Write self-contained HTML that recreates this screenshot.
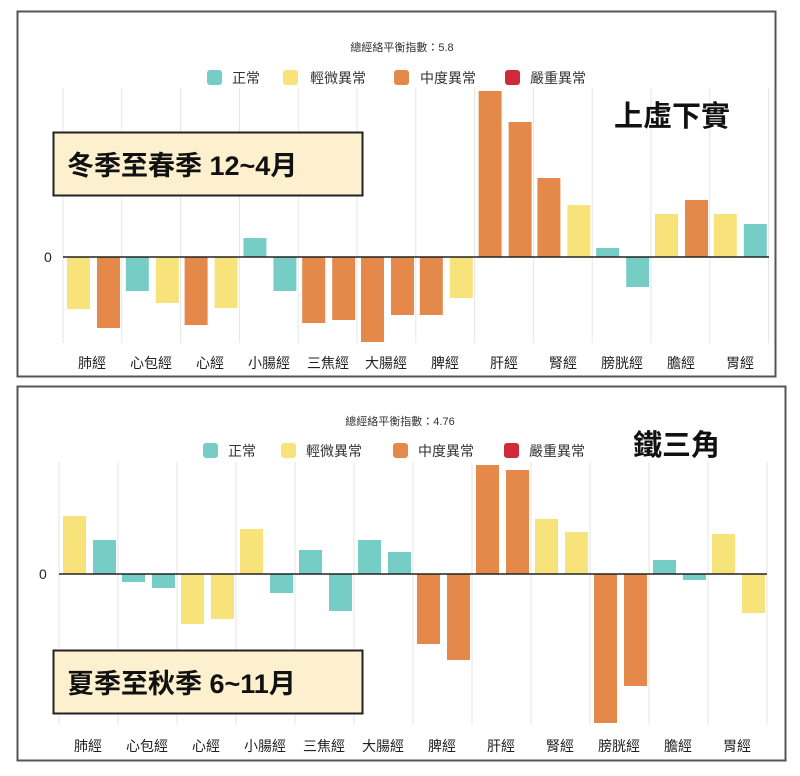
<!DOCTYPE html>
<html><head><meta charset="utf-8"><style>
html,body{margin:0;padding:0;background:#fff;}
svg{display:block;font-family:"Liberation Sans","Noto Sans CJK TC",sans-serif;}
</style></head><body>
<svg id="s" width="800" height="776" viewBox="0 0 800 776">
<rect x="0" y="0" width="800" height="776" fill="#fff"/>
<rect x="17.5" y="11.5" width="758" height="365" fill="#fff" stroke="#555" stroke-width="2"/>
<rect x="17.5" y="386.5" width="768" height="374" fill="#fff" stroke="#555" stroke-width="2"/>
<g id="g1"></g><g id="g2"></g>
<g font-size="11" fill="#333" text-anchor="middle">
<text x="402" y="51">總經絡平衡指數：5.8</text>
<text x="400" y="425">總經絡平衡指數：4.76</text>
</g>
<g font-size="14" fill="#333">
<rect x="207" y="70" width="15" height="15" rx="3" fill="#76CDC5"/><text x="232" y="83">正常</text>
<rect x="283" y="70" width="15" height="15" rx="3" fill="#F8E37A"/><text x="310" y="83">輕微異常</text>
<rect x="394" y="70" width="15" height="15" rx="3" fill="#E5894A"/><text x="420" y="83">中度異常</text>
<rect x="505" y="70" width="15" height="15" rx="3" fill="#CF2A3A"/><text x="530" y="83">嚴重異常</text>
<rect x="203" y="443" width="15" height="15" rx="3" fill="#76CDC5"/><text x="228" y="456">正常</text>
<rect x="281" y="443" width="15" height="15" rx="3" fill="#F8E37A"/><text x="306" y="456">輕微異常</text>
<rect x="393" y="443" width="15" height="15" rx="3" fill="#E5894A"/><text x="418" y="456">中度異常</text>
<rect x="504" y="443" width="15" height="15" rx="3" fill="#CF2A3A"/><text x="529" y="456">嚴重異常</text>
</g>
<g font-size="14" fill="#222" text-anchor="middle" id="lab">
<text x="92" y="368">肺經</text><text x="151" y="368">心包經</text><text x="210" y="368">心經</text><text x="269" y="368">小腸經</text><text x="328" y="368">三焦經</text><text x="386" y="368">大腸經</text><text x="445" y="368">脾經</text><text x="504" y="368">肝經</text><text x="563" y="368">腎經</text><text x="622" y="368">膀胱經</text><text x="681" y="368">膽經</text><text x="740" y="368">胃經</text>
<text x="88" y="751">肺經</text><text x="147" y="751">心包經</text><text x="206" y="751">心經</text><text x="265" y="751">小腸經</text><text x="324" y="751">三焦經</text><text x="383" y="751">大腸經</text><text x="442" y="751">脾經</text><text x="501" y="751">肝經</text><text x="560" y="751">腎經</text><text x="619" y="751">膀胱經</text><text x="678" y="751">膽經</text><text x="737" y="751">胃經</text>
</g>
<g font-size="14" fill="#222"><text x="44" y="262">0</text><text x="39" y="579">0</text></g>
<g id="boxes">
<rect x="53.5" y="132.5" width="309" height="63" fill="#FCF0CF" stroke="#222" stroke-width="2"/>
<text x="67" y="175" font-size="27" font-weight="bold" fill="#111">冬季至春季 12~4月</text>
<rect x="53.5" y="650.5" width="309" height="63" fill="#FCF0CF" stroke="#222" stroke-width="2"/>
<text x="67" y="693" font-size="27" font-weight="bold" fill="#111">夏季至秋季 6~11月</text>
<text x="614" y="126" font-size="29" font-weight="bold" fill="#111">上虛下實</text>
<text x="633" y="455" font-size="29" font-weight="bold" fill="#111">鐵三角</text>
</g>
</svg>
<script>
var C={t:"#76CDC5",y:"#F8E37A",o:"#E5894A"};
function draw(id,x0,sp,top,bot,zero,data,right){
 var g=document.getElementById(id),h="";
 for(var i=0;i<=12;i++){var x=x0+i*sp;h+='<line x1="'+x+'" y1="'+top+'" x2="'+x+'" y2="'+bot+'" stroke="#e6e6e6" stroke-width="1"/>';}
 data.forEach(function(d,i){var x=x0+i*sp;[[d[0],d[1],4],[d[2],d[3],34]].forEach(function(b){
  var v=b[1],y=Math.min(v,zero),hh=Math.abs(v-zero);
  h+='<rect x="'+(x+b[2])+'" y="'+y+'" width="23" height="'+hh+'" fill="'+C[b[0]]+'"/>';});});
 h+='<line x1="'+x0+'" y1="'+zero+'" x2="'+right+'" y2="'+zero+'" stroke="#222" stroke-width="1.5"/>';
 g.innerHTML=h;
}
draw("g1",63,58.8,88,343,257,[["y",309,"o",328],["t",291,"y",303],["o",325,"y",308],["t",238,"t",291],["o",323,"o",320],["o",342,"o",315],["o",315,"y",298],["o",91,"o",122],["o",178,"y",205],["t",248,"t",287],["y",214,"o",200],["y",214,"t",224]],769);
draw("g2",59,59,462,725,574,[["y",516,"t",540],["t",582,"t",588],["y",624,"y",619],["y",529,"t",593],["t",550,"t",611],["t",540,"t",552],["o",644,"o",660],["o",465,"o",470],["y",519,"y",532],["o",723,"o",686],["t",560,"t",580],["y",534,"y",613]],767);
</script>
</body></html>
